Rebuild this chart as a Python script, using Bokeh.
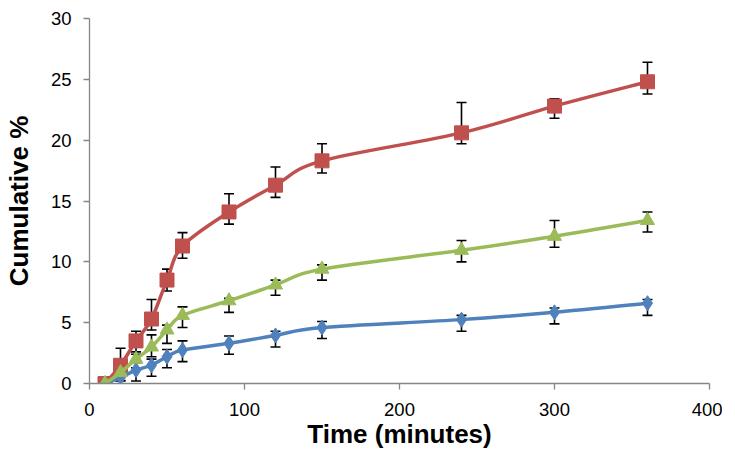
from bokeh.plotting import figure
from bokeh.models import Whisker, TeeHead, ColumnDataSource, FixedTicker, Range1d
from bokeh.embed import file_html
from bokeh.resources import INLINE

time_min = [10, 20, 30, 40, 50, 60, 90, 120, 150, 240, 300, 360]

red_vals = [0, 1.5, 3.5, 5.3, 8.5, 11.3, 14.1, 16.3, 18.3, 20.6, 22.8, 24.8]
red_hi = [0, 2.9, 4.3, 6.9, 9.4, 12.4, 15.6, 17.8, 19.7, 23.1, 23.4, 26.4]
red_lo = [0, 0.2, 2.6, 4.4, 7.6, 10.3, 13.1, 15.3, 17.3, 19.7, 21.8, 23.8]

green_vals = [0, 0.9, 2.0, 3.0, 4.4, 5.6, 6.8, 8.1, 9.4, 10.95, 12.1, 13.4]
green_hi = [0, 1.2, 2.4, 4.0, 4.8, 6.3, 7.0, 8.5, 9.75, 11.75, 13.4, 14.1]
green_lo = [0, 0.6, 1.7, 2.2, 3.3, 4.6, 5.85, 7.25, 8.5, 10.0, 11.2, 12.45]

blue_vals = [0, 0.5, 1.1, 1.5, 2.2, 2.75, 3.3, 3.95, 4.6, 5.25, 5.85, 6.6]
blue_hi = [0, 0.7, 1.3, 2.0, 2.8, 3.5, 3.9, 4.3, 5.1, 5.6, 6.2, 6.9]
blue_lo = [0, 0.25, 0.2, 0.6, 1.3, 1.8, 2.4, 3.0, 3.7, 4.3, 4.9, 5.6]

x_ticks = [0, 100, 200, 300, 400]
y_ticks = [0, 5, 10, 15, 20, 25, 30]

RED = "#C0504D"
GREEN = "#9BBB59"
BLUE = "#4F81BD"

p = figure(width=722, height=463, output_backend="svg", toolbar_location=None,
           x_range=Range1d(0, 400), y_range=Range1d(0, 30),
           min_border_left=87, min_border_right=13, min_border_top=18, min_border_bottom=80)
p.outline_line_color = None
p.grid.grid_line_color = None
p.background_fill_color = "white"
p.border_fill_color = "white"

for ax in (p.xaxis[0], p.yaxis[0]):
    ax.axis_line_color = "#868686"
    ax.axis_line_width = 1.3
    ax.major_tick_line_color = "#868686"
    ax.major_tick_line_width = 1.3
    ax.major_tick_out = 6
    ax.major_tick_in = 0
    ax.minor_tick_line_color = None
    ax.major_label_text_font = "Liberation Sans"
    ax.major_label_text_font_size = "18.5px"
    ax.major_label_text_color = "black"
    ax.axis_label_text_font = "Liberation Sans"
    ax.axis_label_text_font_style = "bold"
    ax.axis_label_text_font_size = "26px"
    ax.axis_label_text_color = "black"

p.xaxis.major_label_standoff = 13
p.yaxis.major_label_standoff = 12
p.xaxis.ticker = FixedTicker(ticks=x_ticks)
p.yaxis.ticker = FixedTicker(ticks=y_ticks)
p.xaxis.axis_label = "Time (minutes)"
p.yaxis.axis_label = "Cumulative %"
p.xaxis.axis_label_standoff = 0
p.yaxis.axis_label_standoff = 14


def smooth(xs, ys, t=1.0 / 6.0):
    n = len(xs)
    x0, y0, x1, y1, cx0, cy0, cx1, cy1 = [], [], [], [], [], [], [], []
    for i in range(n - 1):
        ip = max(i - 1, 0)
        inx = min(i + 2, n - 1)
        x0.append(xs[i]); y0.append(ys[i])
        x1.append(xs[i + 1]); y1.append(ys[i + 1])
        cx0.append(xs[i] + (xs[i + 1] - xs[ip]) * t)
        cy0.append(ys[i] + (ys[i + 1] - ys[ip]) * t)
        cx1.append(xs[i + 1] - (xs[inx] - xs[i]) * t)
        cy1.append(ys[i + 1] - (ys[inx] - ys[i]) * t)
    return dict(x0=x0, y0=y0, x1=x1, y1=y1, cx0=cx0, cy0=cy0, cx1=cx1, cy1=cy1)


def series(vals, hi, lo, color, marker, size):
    src = ColumnDataSource(dict(x=time_min, y=vals, hi=hi, lo=lo))
    p.bezier(source=ColumnDataSource(smooth(time_min, vals)), x0="x0", y0="y0", x1="x1", y1="y1",
             cx0="cx0", cy0="cy0", cx1="cx1", cy1="cy1", line_color=color, line_width=3.5)
    w = Whisker(source=src, base="x", upper="hi", lower="lo", line_color="black", line_width=1.6,
                upper_head=TeeHead(size=10, line_color="black", line_width=1.6),
                lower_head=TeeHead(size=10, line_color="black", line_width=1.6))
    p.add_layout(w)
    p.scatter("x", "y", source=src, marker=marker, size=size, fill_color=color, line_color=color)


series(red_vals, red_hi, red_lo, RED, "square", 14)
series(blue_vals, blue_hi, blue_lo, BLUE, "diamond", 15)
series(green_vals, green_hi, green_lo, GREEN, "triangle", 14)

open("out.html", "w").write(file_html(p, INLINE))
